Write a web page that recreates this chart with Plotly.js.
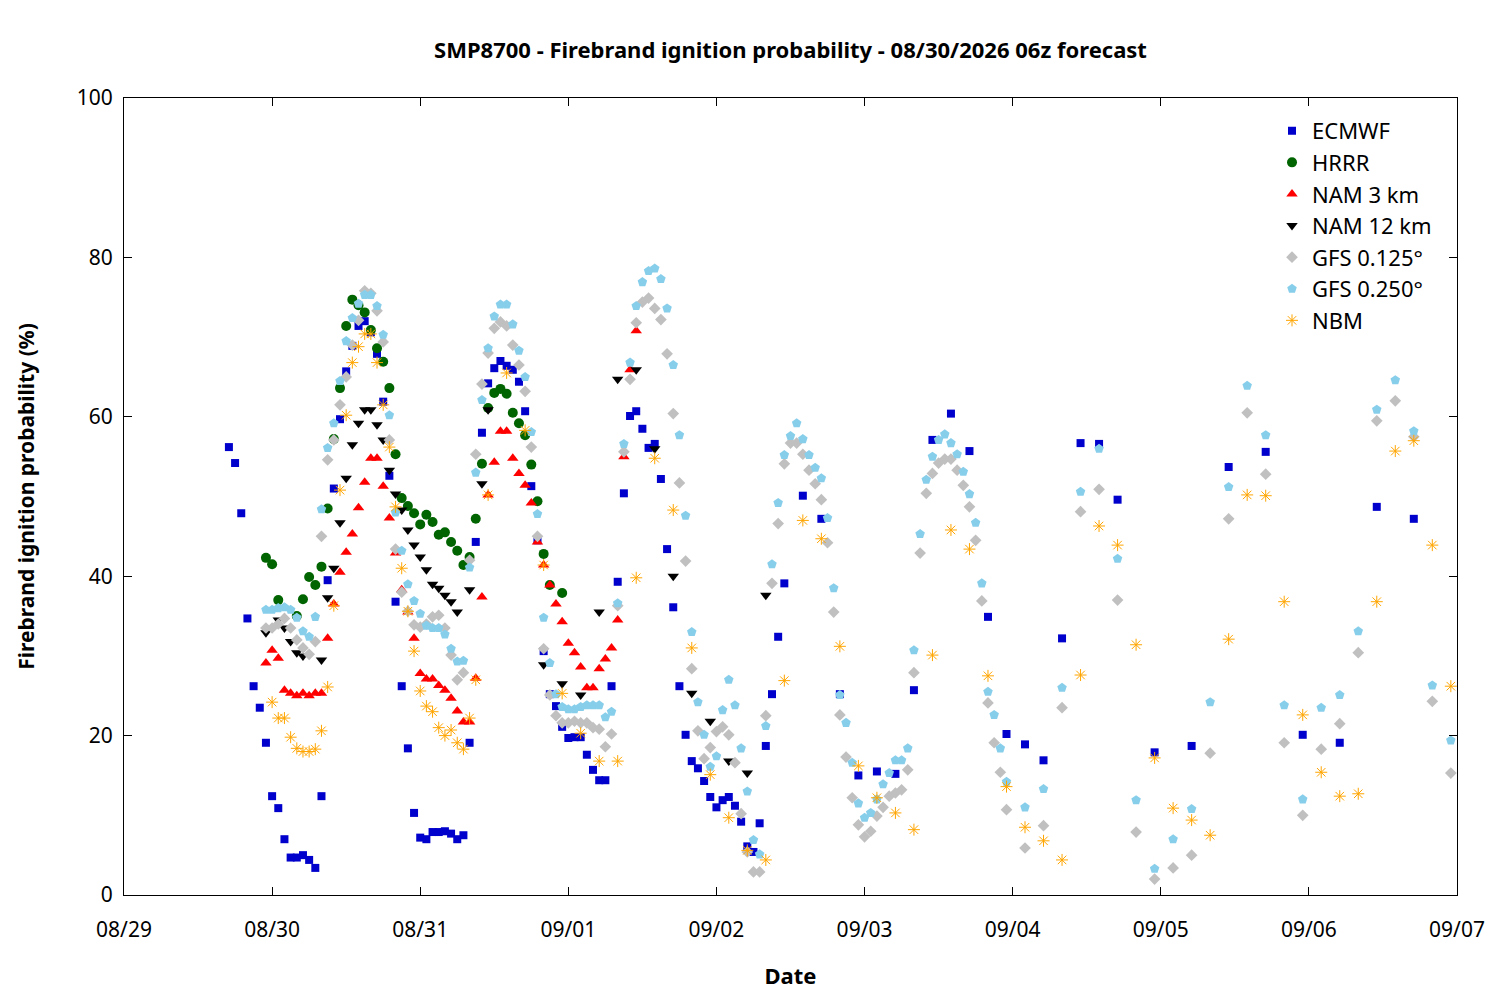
<!DOCTYPE html>
<html>
<head>
<meta charset="utf-8">
<script src="https://cdn.plot.ly/plotly-3.0.1.min.js"></script>
<style>body{margin:0;background:#fff}</style>
</head>
<body>
<div id="chart" style="width:1500px;height:1000px"></div>
<script>
// forecast hours counted from 08/29 00z
const span = (a, b, step) => {
  const out = [];
  for (let h = a; h <= b; h += step) out.push(h);
  return out;
};

const ecmwfHours = span(17, 107, 1).concat([110, 113, 116, 119, 122, 125, 128, 131, 134, 137, 140, 143, 146, 149, 152, 155, 158, 161, 167, 173, 179, 185, 191, 197, 203, 209]);
const ecmwfVals = [
  56.2, 54.2, 47.9, 34.7, 26.2, 23.5, 19.1, 12.4, 10.9, 7.0,
  4.7, 4.7, 5.0, 4.4, 3.4, 12.4, 39.5, 51.0, 59.7, 65.7,
  68.9, 71.4, 72.0, 70.6, 67.9, 61.9, 52.6, 36.8, 26.2, 18.4,
  10.3, 7.2, 7.0, 7.9, 7.9, 8.0, 7.7, 7.0, 7.5, 19.1,
  44.3, 58.0, 64.2, 66.1, 67.0, 66.4, 65.9, 64.4, 60.7, 51.3,
  44.5, 30.6, 25.2, 23.7, 21.1, 19.7, 19.8, 19.8, 17.6, 15.7,
  14.4, 14.4, 26.2, 39.3, 50.4, 60.1, 60.7, 58.5, 56.1, 56.6,
  52.2, 43.4, 36.1, 26.2, 20.1, 16.8, 15.9, 14.3, 12.3, 11.0,
  11.9, 12.3, 11.2, 9.2, 6.1, 5.4, 9.0, 18.7, 25.2, 32.4, 39.1,
  50.1, 47.2, 25.2, 15.0, 15.5, 15.2, 25.7, 57.1, 60.4, 55.7, 34.9, 20.2, 18.9, 16.9,
  32.2, 56.7, 56.6, 49.6, 17.9, 18.7, 53.7, 55.6, 20.1, 19.1, 48.7, 47.2
];

const hrrrHours = [23, 24, 25].concat(span(28, 69, 1), [71]);
const hrrrVals = [
  42.3, 41.5, 37.0, 35.0, 37.1, 39.9, 38.9, 41.2, 48.5, 57.2, 63.6, 71.4,
  74.7, 74.0, 73.1, 70.9, 68.6, 66.9, 63.6, 55.3, 49.8, 48.8, 47.9, 46.5,
  47.7, 46.8, 45.2, 45.5, 44.3, 43.2, 41.4, 42.4, 47.2, 54.1, 61.1, 63.0,
  63.5, 62.9, 60.5, 59.2, 57.7, 54.0, 49.4, 42.8, 38.9, 37.9
];

const nam3Hours = span(23, 83, 1);
const nam3Vals = [
  29.1, 30.7, 29.7, 25.7, 25.3, 25.0, 25.3, 25.0, 25.3, 25.3,
  32.2, 36.5, 40.5, 43.0, 45.3, 48.6, 51.8, 54.8, 54.8, 51.3,
  47.3, 42.9, 38.3, 35.5, 32.2, 27.8, 27.1, 27.1, 26.3, 25.7,
  24.7, 23.1, 21.7, 21.7, 27.2, 37.4, 50.2, 54.3, 58.2, 58.2,
  54.8, 52.9, 51.4, 49.2, 44.3, 41.4, 38.9, 36.5, 34.3, 31.6,
  30.4, 28.6, 26.0, 26.0, 28.4, 29.6, 31.0, 34.5, 55.0, 65.9, 70.8
];

const nam12Hours = [23, 25, 26, 27, 28, 29].concat(span(32, 54, 1), [56, 58, 59, 68, 71, 74, 77, 80, 83, 86, 89, 92, 95, 98, 101, 104]);
const nam12Vals = [
  32.9, 34.5, 33.5, 31.8, 30.4, 30.0,
  29.5, 37.3, 41.0, 46.7, 52.3, 56.5, 59.2, 60.9, 60.9, 59.0, 57.1, 53.3,
  50.3, 48.3, 45.8, 43.9, 42.4, 40.8, 39.0, 38.5, 37.6, 36.8, 35.5,
  38.3, 51.6, 60.9, 28.9, 26.5, 25.1, 35.5, 64.7, 65.9, 56.0, 40.0, 25.3, 21.8, 16.8, 15.3, 37.6
];

const gfs125Hours = span(23, 143, 1).concat([146, 149, 152, 155, 158, 161, 164, 167, 170, 173, 176, 179, 182, 185, 188, 191, 194, 197, 200, 203, 206, 209, 212, 215]);
const gfs125Vals = [
  33.5, 33.5, 34.0, 34.7, 33.5, 32.0, 31.0, 30.2, 31.8, 45.0,
  54.6, 57.1, 61.5, 65.0, 69.0, 72.1, 75.8, 75.5, 73.3, 69.4,
  57.1, 43.4, 38.0, 35.6, 33.9, 33.6, 34.0, 34.9, 35.1, 33.5,
  30.1, 27.0, 27.9, 42.0, 55.3, 64.1, 68.0, 71.1, 71.9, 71.4,
  69.0, 66.5, 63.2, 56.2, 45.0, 30.9, 25.1, 22.5, 21.6, 21.6,
  21.8, 21.6, 21.6, 21.0, 20.8, 18.6, 20.2, 36.3, 55.6, 64.7,
  71.8, 74.4, 74.9, 73.6, 72.2, 67.9, 60.4, 51.7, 41.9, 28.4,
  20.6, 17.1, 18.5, 20.5, 21.1, 20.1, 16.6, 10.2, 5.4, 2.9,
  2.9, 22.5, 39.1, 46.6, 54.1, 56.7, 56.7, 55.3, 53.3, 51.6,
  49.6, 44.2, 35.5, 22.6, 17.3, 12.2, 8.8, 7.3, 8.0, 9.9,
  11.0, 12.4, 12.8, 13.2, 15.7, 27.9, 42.9, 50.4, 52.9, 54.2,
  54.7, 54.7, 53.3, 51.4, 48.7, 44.5, 36.9, 24.1, 19.1, 15.4,
  10.7,
  5.9, 8.7, 23.5, 48.1, 50.9, 37.0, 7.9, 2.0, 3.4, 5.0, 17.8, 47.2,
  60.5, 52.8, 19.1, 10.0, 18.3, 21.5, 30.4, 59.5, 62.0, 57.5, 24.3, 15.3
];

const gfs250Hours = span(23, 143, 1).concat([146, 149, 152, 155, 158, 161, 164, 167, 170, 173, 176, 179, 182, 185, 188, 191, 194, 197, 200, 203, 206, 209, 212, 215]);
const gfs250Vals = [
  35.8, 35.8, 36.0, 36.1, 35.8, 34.8, 33.1, 32.4, 34.9, 48.4,
  56.1, 59.2, 64.5, 69.5, 72.4, 74.2, 75.3, 75.3, 73.9, 70.3,
  60.2, 48.0, 43.2, 39.0, 36.9, 35.3, 33.8, 33.5, 33.5, 32.7,
  30.9, 29.3, 29.4, 41.1, 53.0, 62.1, 68.6, 72.6, 74.1, 74.1,
  71.6, 68.3, 65.0, 58.1, 47.8, 34.8, 29.1, 25.2, 23.6, 23.3,
  23.3, 23.6, 23.8, 23.8, 23.8, 22.3, 23.0, 36.6, 56.6, 66.8,
  73.9, 76.9, 78.3, 78.6, 77.3, 73.6, 66.5, 57.7, 47.6, 33.0,
  24.2, 20.1, 16.1, 17.4, 23.2, 27.0, 23.8, 18.4, 13.0, 6.9,
  5.1, 21.2, 41.5, 49.2, 55.2, 57.6, 59.2, 57.2, 55.2, 53.6,
  52.3, 47.3, 38.5, 25.1, 21.6, 16.6, 11.5, 9.7, 10.3, 12.0,
  13.9, 15.3, 16.9, 16.9, 18.4, 30.7, 45.3, 52.1, 55.0, 57.1,
  57.8, 56.7, 55.3, 53.1, 50.3, 46.7, 39.1, 25.5, 22.6, 18.4,
  14.2,
  11.0, 13.3, 26.0, 50.6, 56.0, 42.2, 11.9, 3.3, 7.0, 10.8, 24.2, 51.2,
  63.9, 57.7, 23.8, 12.0, 23.5, 25.1, 33.1, 60.9, 64.6, 58.2, 26.3, 19.4
];

const nbmHours = span(24, 57, 1).concat(span(59, 215, 3));
const nbmVals = [
  24.2, 22.2, 22.2, 19.8, 18.4, 18.0, 18.0, 18.3, 20.6, 26.1,
  36.3, 50.8, 60.2, 66.8, 68.8, 70.4, 70.4, 66.8, 61.5, 56.2,
  48.7, 41.0, 35.6, 30.6, 25.6, 23.7, 23.0, 21.0, 20.0, 20.7,
  19.1, 18.3, 22.2, 27.0,
  50.2, 65.5, 58.3, 41.4, 25.3, 20.3, 16.8, 16.8, 39.8, 54.8, 48.3, 31.0,
  15.1, 9.7, 5.6, 4.4, 26.9, 47.0, 44.7, 31.2, 16.2, 12.2, 10.3, 8.2,
  30.1, 45.8, 43.4, 27.5, 13.6, 8.5, 6.8, 4.4, 27.6, 46.3, 43.9, 31.4,
  17.2, 10.9, 9.4, 7.5, 32.1, 50.2, 50.1, 36.8, 22.6, 15.4, 12.4, 12.7,
  36.8, 55.7, 57.0, 43.9, 26.2
];

const base = Date.UTC(2026, 7, 29);
const toDate = (hours) => hours.map((h) => new Date(base + h * 3600 * 1000).toISOString().slice(0, 19).replace('T', ' '));

const mk = (name, hours, vals, marker) => ({
  x: toDate(hours),
  y: vals,
  name: name,
  type: 'scatter',
  mode: 'markers',
  marker: marker,
});

const traces = [
  mk('ECMWF', ecmwfHours, ecmwfVals, { symbol: 'square', size: 8, color: '#0000cc' }),
  mk('HRRR', hrrrHours, hrrrVals, { symbol: 'circle', size: 10, color: '#006400' }),
  mk('NAM 3 km', nam3Hours, nam3Vals, { symbol: 'triangle-up', size: 10, color: '#ff0000' }),
  mk('NAM 12 km', nam12Hours, nam12Vals, { symbol: 'triangle-down', size: 10, color: '#000000' }),
  mk('GFS 0.125°', gfs125Hours, gfs125Vals, { symbol: 'diamond', size: 9, color: '#c0c0c0' }),
  mk('GFS 0.250°', gfs250Hours, gfs250Vals, { symbol: 'pentagon', size: 10, color: '#87ceeb' }),
  mk('NBM', nbmHours, nbmVals, { symbol: 'asterisk-open', size: 10, color: '#ffa500', line: { color: '#ffa500', width: 1 } }),
];

const font = 'Noto Sans, Open Sans, sans-serif';

const layout = {
  width: 1500,
  height: 1000,
  paper_bgcolor: '#fff',
  plot_bgcolor: '#fff',
  font: { family: font, size: 21, color: '#000' },
  margin: { l: 124, r: 43, t: 98, b: 105 },
  title: {
    text: '<b>SMP8700 - Firebrand ignition probability - 08/30/2026 06z forecast</b>',
    font: { family: font, size: 22 },
    x: 0.527,
    xanchor: 'center',
    y: 0.95,
    yanchor: 'middle',
  },
  xaxis: {
    type: 'date',
    range: ['2026-08-29', '2026-09-07'],
    dtick: 86400000,
    tickformat: '%m/%d',
    ticks: 'inside',
    ticklen: 8,
    tickcolor: '#000',
    ticklabelstandoff: 16,
    showline: true,
    linecolor: '#000',
    mirror: 'ticks',
    showgrid: false,
    zeroline: false,
    title: { text: '<b>Date</b>', font: { family: font, size: 22 }, standoff: 26 },
  },
  yaxis: {
    range: [0, 100],
    dtick: 20,
    ticks: 'inside',
    ticklen: 8,
    tickcolor: '#000',
    ticklabelstandoff: 6,
    showline: true,
    linecolor: '#000',
    mirror: 'ticks',
    showgrid: false,
    zeroline: false,
    title: { text: '<b>Firebrand ignition probability (%)</b>', font: { family: font, size: 21 }, standoff: 36 },
  },
  legend: {
    x: 0.985,
    y: 0.985,
    xanchor: 'right',
    yanchor: 'top',
    bgcolor: 'rgba(0,0,0,0)',
    font: { family: font, size: 22 },
    tracegroupgap: 0,
  },
  showlegend: true,
};

Plotly.newPlot('chart', traces, layout, { displayModeBar: false, staticPlot: true });
</script>
</body>
</html>
